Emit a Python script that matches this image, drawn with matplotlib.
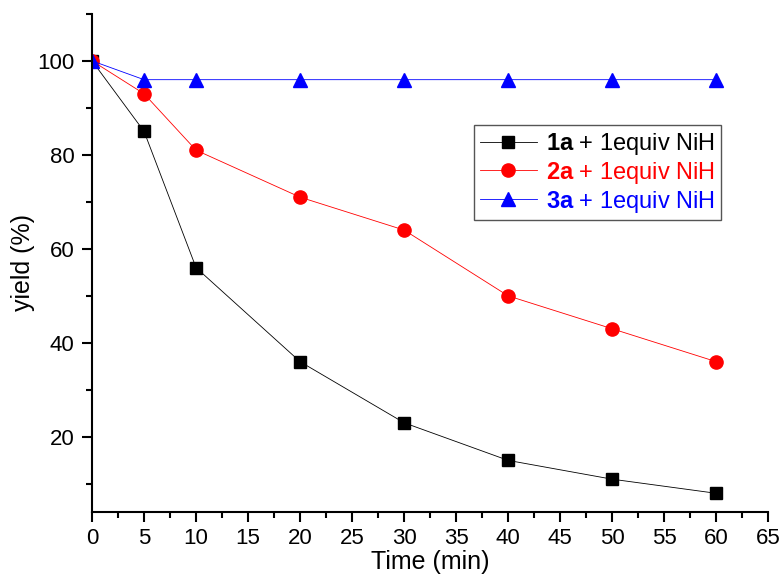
import matplotlib.pyplot as plt
from matplotlib.ticker import MultipleLocator

plt.rcParams['font.family'] = ['Liberation Sans', 'DejaVu Sans']
plt.rcParams['mathtext.fontset'] = 'custom'
plt.rcParams['mathtext.bf'] = 'Liberation Sans:bold'
plt.rcParams['mathtext.rm'] = 'Liberation Sans'

# - Data -----------------------------------------------------------------------
time_min = [0, 5, 10, 20, 30, 40, 50, 60]
yield_1a = [100, 85, 56, 36, 23, 15, 11, 8]
yield_2a = [100, 93, 81, 71, 64, 50, 43, 36]
yield_3a = [100, 96, 96, 96, 96, 96, 96, 96]
labels = [r"$\mathbf{1a}$ + 1equiv NiH",
          r"$\mathbf{2a}$ + 1equiv NiH",
          r"$\mathbf{3a}$ + 1equiv NiH"]
colors = ['black', 'red', 'blue']

fig = plt.figure(figsize=(7.8, 5.78), dpi=100)
ax = fig.add_axes([0.118, 0.114, 0.867, 0.862])

ax.plot(time_min, yield_1a, '-s', color=colors[0], lw=0.6, ms=8.5, label=labels[0])
ax.plot(time_min, yield_2a, '-o', color=colors[1], lw=0.6, ms=9.5, label=labels[1])
ax.plot(time_min, yield_3a, '-^', color=colors[2], lw=0.6, ms=10, label=labels[2])

ax.set_xlim(0, 65)
ax.set_ylim(4, 110)
ax.xaxis.set_major_locator(MultipleLocator(5))
ax.xaxis.set_minor_locator(MultipleLocator(2.5))
ax.yaxis.set_minor_locator(MultipleLocator(10))
ax.set_yticks([20, 40, 60, 80, 100])

for s in ['top', 'right']:
    ax.spines[s].set_visible(False)
for s in ['left', 'bottom']:
    ax.spines[s].set_linewidth(1.5)
ax.tick_params(which='major', direction='out', length=7.5, width=1.5, labelsize=16)
ax.tick_params(which='minor', direction='out', length=4, width=1.5)
ax.tick_params(axis='y', which='major', pad=5)
ax.tick_params(axis='x', which='major', pad=4)

ax.set_xlabel('Time (min)', fontsize=18, labelpad=0.5)
ax.set_ylabel('yield (%)', fontsize=18, labelpad=2)

leg = ax.legend(loc='upper left', bbox_to_anchor=(0.565, 0.777), fontsize=17,
                frameon=True, fancybox=False, edgecolor='#555555', framealpha=1,
                handlelength=2.4, handletextpad=0.4, borderpad=0.25,
                labelspacing=0.12, borderaxespad=0)
leg.get_frame().set_linewidth(1.0)
for txt, c in zip(leg.get_texts(), colors):
    txt.set_color(c)

fig.savefig('out.png', dpi=100)
